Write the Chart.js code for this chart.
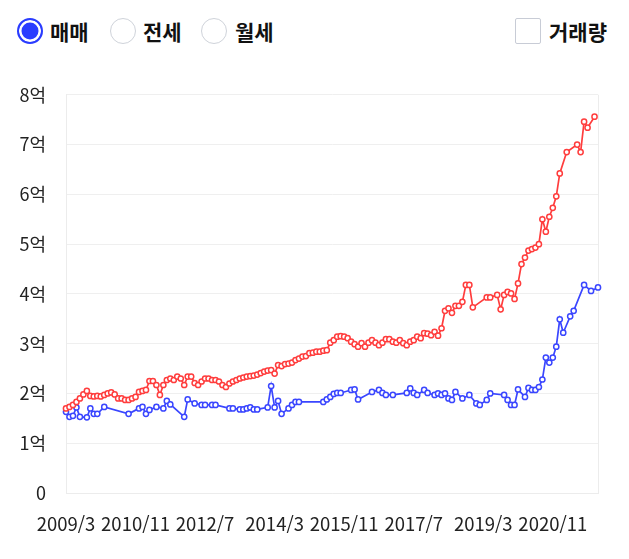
<!DOCTYPE html>
<html lang="ko">
<head>
<meta charset="utf-8">
<script src="https://cdn.jsdelivr.net/npm/chart.js@4"></script>
<style>
  html, body { margin: 0; padding: 0; background: #fff; }
  body { width: 629px; height: 559px; overflow: hidden; position: relative; font-family: "Noto Sans CJK KR", "Noto Sans", sans-serif; }
  .opt { position: absolute; top: 17px; height: 28px; line-height: 28px; font-size: 21px; font-weight: 700; color: #111; }
  .radio { position: absolute; top: 18px; width: 26px; height: 26px; border-radius: 50%; border: 1.5px solid #cfd3da; background: #fff; box-sizing: border-box; }
  .radio.on { border: 2px solid #2a3cff; background: #2a3cff; box-shadow: inset 0 0 0 2.5px #fff; }
  .check { position: absolute; top: 18px; left: 515px; width: 26px; height: 26px; border: 1.5px solid #c8ccd6; border-radius: 2px; box-sizing: border-box; background: #fff; }
  #wrap { position: absolute; left: 0; top: 64px; width: 629px; height: 495px; }
</style>
</head>
<body>
<div class="radio on" style="left:17px"></div><div class="opt" style="left:50px">매매</div>
<div class="radio" style="left:110px"></div><div class="opt" style="left:143px">전세</div>
<div class="radio" style="left:201px"></div><div class="opt" style="left:235px">월세</div>
<div class="check"></div><div class="opt" style="left:549px">거래량</div>
<div id="wrap"><canvas id="priceChart"></canvas></div>
<script>
// months counted from 2009/3
const startYear = 2009, startMonth = 3, monthCount = 154;
const yTickLabels = ["0", "1억", "2억", "3억", "4억", "5억", "6억", "7억", "8억"];

// 매매 (red) : month offset -> price in 억
const saleMonths = [0,1,2,3,4,5,6,7,8,9,10,11,12,13,14,15,16,17,18,19,20,21,22,23,24,25,26,27,28,29,
  30,31,32,33,34,35,36,37,38,39,40,41,42,43,44,45,46,47,48,49,50,51,52,53,54,55,56,57,58,59,
  60,61,62,63,64,65,66,67,68,69,70,71,72,73,74,75,76,77,78,79,80,81,82,83,84,85,86,87,88,89,
  90,91,92,93,94,95,96,97,98,99,100,101,102,103,104,105,106,107,108,109,110,111,112,113,114,115,116,117,
  121,122,124,125,126,127,128,129,130,131,132,133,134,135,136,137,138,139,140,141,142,144,147,148,149,150,152];
const saleValues = [1.70,1.73,1.77,1.83,1.90,1.98,2.05,1.95,1.94,1.95,1.94,1.97,2.00,2.02,1.98,1.90,1.90,1.87,1.87,1.90,
  1.93,2.03,2.05,2.07,2.25,2.25,2.17,1.97,2.17,2.27,2.30,2.27,2.34,2.30,2.17,2.34,2.34,2.21,2.17,2.24,
  2.30,2.30,2.27,2.27,2.24,2.17,2.13,2.20,2.24,2.27,2.30,2.32,2.34,2.35,2.36,2.38,2.41,2.44,2.46,2.47,
  2.40,2.57,2.55,2.59,2.60,2.62,2.67,2.70,2.74,2.75,2.81,2.82,2.84,2.84,2.86,2.87,3.02,3.07,3.14,3.15,
  3.14,3.11,3.04,2.99,2.94,3.01,2.94,3.02,3.07,3.02,2.97,3.02,3.09,3.09,3.04,3.02,3.07,3.01,2.97,3.04,
  3.07,3.14,3.11,3.21,3.20,3.17,3.24,3.16,3.31,3.66,3.71,3.62,3.76,3.76,3.84,4.18,4.18,3.73,
  3.93,3.93,3.98,3.69,3.98,4.04,4.01,3.90,4.21,4.60,4.73,4.87,4.90,4.93,5.00,5.50,5.25,5.55,5.73,5.96,6.42,6.85,7.00,6.85,7.46,7.34,7.56];

// 전세 (blue)
const rentMonths = [0,1,2,3,4,6,7,8,9,11,18,21,22,23,24,26,28,29,30,34,35,37,39,40,42,43,47,48,50,51,52,53,54,55,
  58,59,60,61,62,64,65,66,67,74,75,76,77,78,79,82,83,84,88,90,91,92,94,98,99,100,101,103,104,106,107,108,109,110,111,112,
  114,116,118,119,121,122,126,127,128,129,130,132,133,134,135,136,137,138,139,140,141,142,143,145,146,149,151,153];
const rentValues = [1.63,1.53,1.55,1.72,1.53,1.52,1.70,1.59,1.59,1.73,1.59,1.70,1.73,1.59,1.67,1.73,1.70,1.85,1.78,1.53,1.88,1.80,1.77,1.77,1.77,1.77,1.70,1.70,1.68,1.68,1.70,1.72,1.68,1.68,
  1.72,2.15,1.72,1.85,1.59,1.70,1.77,1.83,1.83,1.83,1.88,1.93,1.99,2.01,2.01,2.07,2.08,1.88,2.03,2.07,2.01,1.97,1.97,2.01,2.10,2.01,1.97,2.07,2.01,1.97,2.00,1.97,2.00,1.90,1.87,2.03,
  1.90,1.97,1.80,1.77,1.87,2.00,1.97,1.87,1.77,1.77,2.08,1.93,2.11,2.07,2.07,2.13,2.28,2.72,2.62,2.72,2.94,3.49,3.22,3.55,3.66,4.18,4.06,4.13];

const months = [];
for (let i = 0; i < monthCount; i++) {
  const m = startYear * 12 + (startMonth - 1) + i;
  months.push(Math.floor(m / 12) + "/" + (m % 12 + 1));
}

function toPoints(idx, vals) {
  return idx.map((k, j) => ({ x: months[k], y: vals[j] }));
}

const tickFont = { family: "'Noto Sans CJK KR', 'Noto Sans', sans-serif", size: 18.5 };

new Chart(document.getElementById("priceChart").getContext("2d"), {
  type: "line",
  data: {
    labels: months,
    datasets: [
      { label: "매매", data: toPoints(saleMonths, saleValues), borderColor: "#ff3d3d", pointBorderColor: "#ff3d3d" },
      { label: "전세", data: toPoints(rentMonths, rentValues), borderColor: "#3a46ff", pointBorderColor: "#3a46ff" }
    ]
  },
  options: {
    responsive: true,
    maintainAspectRatio: false,
    animation: false,
    spanGaps: true,
    layout: { padding: { top: 19, right: 31, left: 0, bottom: 0 } },
    elements: {
      line: { borderWidth: 1.7, tension: 0 },
      point: { radius: 2.6, borderWidth: 1.5, backgroundColor: "#fff" }
    },
    plugins: { legend: { display: false }, tooltip: { enabled: false } },
    scales: {
      x: {
        offset: false,
        grid: { color: ctx => ctx.index === monthCount - 1 ? "#ececec" : "transparent", drawTicks: false },
        border: { color: "#ececec" },
        ticks: {
          autoSkip: false, maxRotation: 0, padding: 20, color: "#222", font: tickFont,
          callback: (v, i) => (i % 20 === 0 ? months[i] : "")
        },
        afterFit: s => { s.height = 66; }
      },
      y: {
        min: 0, max: 8,
        grid: { color: "#efefef", drawTicks: false },
        border: { color: "#ececec" },
        ticks: {
          stepSize: 1, padding: 20, color: "#222", font: { ...tickFont, size: 18 },
          callback: v => yTickLabels[v]
        },
        afterFit: s => { s.width = 66; }
      }
    }
  }
});
</script>
</body>
</html>
